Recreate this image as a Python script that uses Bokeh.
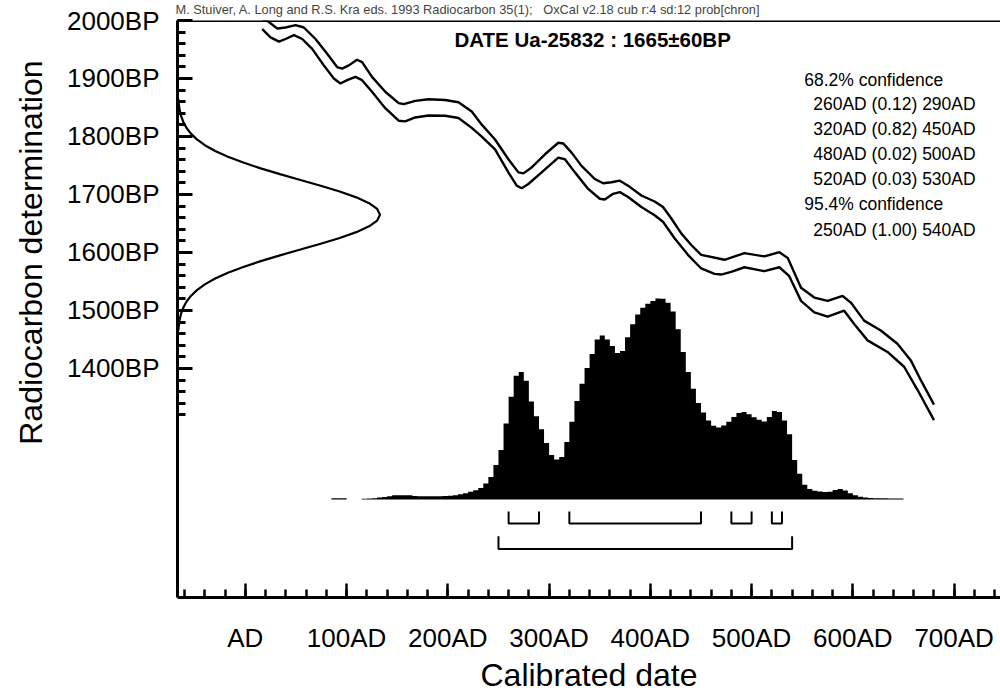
from bokeh.plotting import figure
from bokeh.models import Range1d, LinearAxis, FixedTicker, Span, Label, PrintfTickFormatter, Title
from bokeh.embed import file_html
from bokeh.resources import INLINE

# ---------------- data ----------------
# calibration curve, upper (+1 sigma) and lower (-1 sigma) lines: calendar year AD, BP
cal_upper_year = [16.7, 21.7, 31.5, 39.7, 49.6, 57.8, 69.3, 80.8, 90.6, 95.6, 102.2, 110.3, 115.3, 125.1,
                  138.2, 151.4, 156.4, 167.8, 181.0, 197.3, 210.5, 223.6, 233.5, 246.6, 259.8, 269.7,
                  274.6, 282.8, 295.9, 309.1, 314.0, 322.2, 332.0, 345.1, 353.4, 361.6, 369.8, 378.0,
                  391.1, 404.2, 412.5, 420.7, 430.5, 440.4, 450.2, 473.2, 492.9, 512.6, 527.4, 535.7,
                  548.8, 561.9, 575.1, 589.9, 598.0, 611.1, 627.6, 644.0, 657.1, 667.0, 680.1]
cal_upper_bp = [2000.0, 1999.3, 1986.2, 1987.9, 1992.0, 1987.9, 1968.1, 1942.6, 1919.7, 1917.0, 1922.6,
                1932.3, 1928.3, 1902.7, 1877.1, 1857.4, 1855.7, 1861.3, 1864.2, 1863.0, 1859.1, 1843.1,
                1820.4, 1794.8, 1760.7, 1738.1, 1736.4, 1746.6, 1769.3, 1789.2, 1788.0, 1772.2, 1749.3,
                1726.7, 1719.3, 1721.0, 1723.8, 1715.2, 1698.2, 1687.9, 1678.4, 1658.5, 1632.9, 1612.9,
                1595.9, 1587.4, 1598.8, 1593.2, 1600.5, 1590.3, 1539.2, 1522.2, 1516.5, 1525.0, 1513.6,
                1482.4, 1465.4, 1442.6, 1414.3, 1380.2, 1337.6]
cal_lower_year = [16.7, 24.9, 33.2, 39.7, 48.0, 56.2, 66.0, 77.5, 87.4, 93.9, 100.5, 108.7, 115.3, 125.1,
                  138.2, 151.4, 157.9, 167.8, 181.0, 197.3, 210.5, 223.6, 233.5, 246.6, 259.8, 268.0,
                  272.9, 279.5, 292.6, 309.1, 315.6, 325.5, 338.6, 350.0, 355.0, 363.2, 369.8, 378.0,
                  391.1, 404.2, 412.5, 423.9, 437.1, 450.2, 463.4, 470.0, 479.8, 492.9, 512.6, 527.4,
                  537.2, 548.8, 561.9, 575.1, 591.4, 601.3, 614.5, 634.2, 650.6, 663.8, 680.1]
cal_lower_bp = [1985.2, 1970.9, 1963.5, 1968.1, 1974.9, 1968.1, 1951.1, 1922.6, 1900.0, 1891.4, 1897.1,
                1902.7, 1897.1, 1877.1, 1848.8, 1827.2, 1826.0, 1832.8, 1836.2, 1835.7, 1831.8, 1814.8,
                1799.9, 1777.8, 1738.1, 1715.2, 1710.8, 1718.1, 1738.1, 1763.6, 1760.7, 1738.1, 1709.6,
                1692.6, 1691.4, 1701.1, 1704.0, 1695.5, 1678.4, 1664.1, 1652.9, 1624.4, 1595.9, 1572.4,
                1563.0, 1561.9, 1566.5, 1574.5, 1567.7, 1574.5, 1559.1, 1516.5, 1496.6, 1489.3, 1499.5,
                1476.7, 1448.4, 1428.4, 1402.9, 1363.2, 1310.8]

# radiocarbon determination (relative probability against BP)
c14_bp = [1865, 1855, 1845, 1835, 1825, 1815, 1805, 1795, 1785, 1775, 1765, 1755, 1745, 1735, 1725,
          1715, 1705, 1695, 1685, 1675, 1665, 1655, 1645, 1635, 1625, 1615, 1605, 1595, 1585, 1575,
          1565, 1555, 1545, 1535, 1525, 1515, 1505, 1495, 1485, 1475, 1465]
c14_prob = [0.004, 0.007, 0.011, 0.018, 0.029, 0.044, 0.066, 0.096, 0.135, 0.186, 0.249, 0.325, 0.411,
            0.506, 0.607, 0.707, 0.801, 0.883, 0.946, 0.986, 1.000, 0.986, 0.946, 0.883, 0.801, 0.707,
            0.607, 0.506, 0.411, 0.325, 0.249, 0.186, 0.135, 0.096, 0.066, 0.044, 0.029, 0.018, 0.011,
            0.007, 0.004]

# calibrated distribution, 5-year bins starting at these years
cal_bin_start = list(range(85, 650, 5))
cal_prob = [0.007, 0.007, 0.007, 0.0, 0.0, 0.0, 0.004, 0.005, 0.006, 0.010, 0.013, 0.017, 0.021, 0.022,
            0.022, 0.021, 0.018, 0.017, 0.016, 0.016, 0.016, 0.017, 0.018, 0.019, 0.021, 0.026, 0.032,
            0.039, 0.046, 0.058, 0.080, 0.112, 0.172, 0.246, 0.379, 0.512, 0.616, 0.635, 0.591, 0.488,
            0.414, 0.350, 0.281, 0.222, 0.199, 0.212, 0.286, 0.387, 0.490, 0.576, 0.655, 0.724, 0.796,
            0.816, 0.796, 0.764, 0.729, 0.739, 0.808, 0.872, 0.921, 0.954, 0.975, 0.988, 1.000, 0.999,
            0.980, 0.936, 0.847, 0.734, 0.635, 0.552, 0.480, 0.433, 0.394, 0.367, 0.359, 0.368, 0.387,
            0.411, 0.431, 0.436, 0.424, 0.409, 0.397, 0.389, 0.411, 0.441, 0.436, 0.394, 0.325, 0.197,
            0.128, 0.074, 0.052, 0.044, 0.040, 0.037, 0.039, 0.047, 0.052, 0.045, 0.031, 0.021, 0.014,
            0.010, 0.008, 0.007, 0.006, 0.006, 0.005, 0.005, 0.005]

# confidence ranges
ci68_from = [260, 320, 480, 520]
ci68_to = [290, 450, 500, 530]
ci68_prob = [0.12, 0.82, 0.02, 0.03]
ci95_from = [250]
ci95_to = [540]
ci95_prob = [1.00]

y_major = [1400, 1500, 1600, 1700, 1800, 1900, 2000]
y_minor = list(range(1320, 2001, 20))
x_major = [0, 100, 200, 300, 400, 500, 600, 700]
x_labels = ["AD", "100AD", "200AD", "300AD", "400AD", "500AD", "600AD", "700AD"]
x_minor = list(range(-60, 741, 20))

NB3 = "\u00a0\u00a0\u00a0"
header = "M. Stuiver, A. Long and R.S. Kra eds. 1993 Radiocarbon 35(1);" + NB3 + "OxCal v2.18 cub r:4 sd:12 prob[chron]"
title = "DATE Ua-25832 : 1665\u00b160BP"

# ---------------- drawing ----------------
FONT = "Liberation Sans"

p = figure(width=1000, height=695, x_range=Range1d(-67, 745.8), y_range=Range1d(1005, 2000),
           output_backend="svg", toolbar_location=None, x_axis_type=None, y_axis_type=None,
           min_border_left=175, min_border_right=0, min_border_top=20, min_border_bottom=92)
p.outline_line_color = None
p.background_fill_color = "white"
p.border_fill_color = "white"

# header line above the frame
p.title.text = header
p.title.text_font = FONT
p.title.text_font_size = "12.8px"
p.title.text_font_style = "normal"
p.title.align = "left"
p.title.vertical_align = "top"
p.title.offset = -2
p.title.standoff = 3

yax = LinearAxis(ticker=FixedTicker(ticks=y_major, minor_ticks=y_minor),
                 formatter=PrintfTickFormatter(format="%dBP"),
                 axis_line_width=3, axis_line_color="black",
                 major_tick_in=15, major_tick_out=0, minor_tick_in=8, minor_tick_out=0,
                 major_tick_line_width=3, minor_tick_line_width=3,
                 major_label_standoff=18, major_label_text_font=FONT,
                 major_label_text_font_size="26px", major_label_text_color="black")
p.add_layout(yax, "left")

ytitle = Title(text="Radiocarbon determination", align="right", vertical_align="top", offset=40,
               text_font=FONT, text_font_size="32px", text_font_style="normal",
               text_color="black", standoff=25)
p.add_layout(ytitle, "left")

xax = LinearAxis(ticker=FixedTicker(ticks=x_major, minor_ticks=x_minor),
                 major_label_overrides={t: l for t, l in zip(x_major, x_labels)},
                 axis_line_width=3, axis_line_color="black",
                 major_tick_in=14, major_tick_out=0, minor_tick_in=8, minor_tick_out=0,
                 major_tick_line_width=2.5, minor_tick_line_width=2.5,
                 major_label_standoff=25, major_label_text_font=FONT,
                 major_label_text_font_size="26px", major_label_text_color="black",
                 axis_label="Calibrated date", axis_label_text_font=FONT,
                 axis_label_text_font_size="32px", axis_label_text_font_style="normal",
                 axis_label_text_color="black", axis_label_standoff=1)
p.add_layout(xax, "below")

p.add_layout(Span(location=2000, dimension="width", line_color="black", line_width=3))

# calibrated probability distribution as a step outline
BASE = 1173.9     # baseline of the distribution (BP units)
HAMP = 346.5      # height of the maximum (BP units)
hx, hy = [cal_bin_start[0]], [BASE]
for s, v in zip(cal_bin_start, cal_prob):
    hx += [s, s + 5]
    hy += [BASE + v * HAMP, BASE + v * HAMP]
hx.append(cal_bin_start[-1] + 5)
hy.append(BASE)
p.patch(hx, hy, fill_color="black", line_color=None)

# calibration curve
p.line(cal_upper_year, cal_upper_bp, line_color="black", line_width=2.4)
p.line(cal_lower_year, cal_lower_bp, line_color="black", line_width=2.4)

# radiocarbon determination
GX0 = -67.0
GAMP = 200.0
p.line([GX0 + v * GAMP for v in c14_prob], c14_bp, line_color="black", line_width=2.2)

# confidence brackets
def brackets(starts, ends, ytop, ybot):
    xs = [[a, a, b, b] for a, b in zip(starts, ends)]
    ys = [[ytop, ybot, ybot, ytop] for _ in starts]
    p.multi_line(xs, ys, line_color="black", line_width=2)

brackets(ci68_from, ci68_to, 1153.4, 1132.5)
brackets(ci95_from, ci95_to, 1110.8, 1088.6)

# texts inside the frame
def lab(x, y, text, size, align="left", style="normal"):
    p.add_layout(Label(x=x, y=y, text=text, text_font=FONT, text_font_size=size,
                       text_align=align, text_baseline="middle", text_font_style=style,
                       text_color="black"))

lab(343.0, 1967.2, title, "20.5px", align="center", style="bold")

conf_lines = ["68.2% confidence"]
conf_lines += ["%dAD (%.2f) %dAD" % (a, pr, b) for a, b, pr in zip(ci68_from, ci68_to, ci68_prob)]
conf_lines += ["95.4% confidence"]
conf_lines += ["%dAD (%.2f) %dAD" % (a, pr, b) for a, b, pr in zip(ci95_from, ci95_to, ci95_prob)]
conf_y = [1897.6, 1855.8, 1812.3, 1769.6, 1726.9, 1683.4, 1639.0]
for t, yy in zip(conf_lines, conf_y):
    xx = 551.9 if "confidence" in t else 560.8
    lab(xx, yy, t, "17.5px")

open("out.html", "w").write(file_html(p, INLINE))
